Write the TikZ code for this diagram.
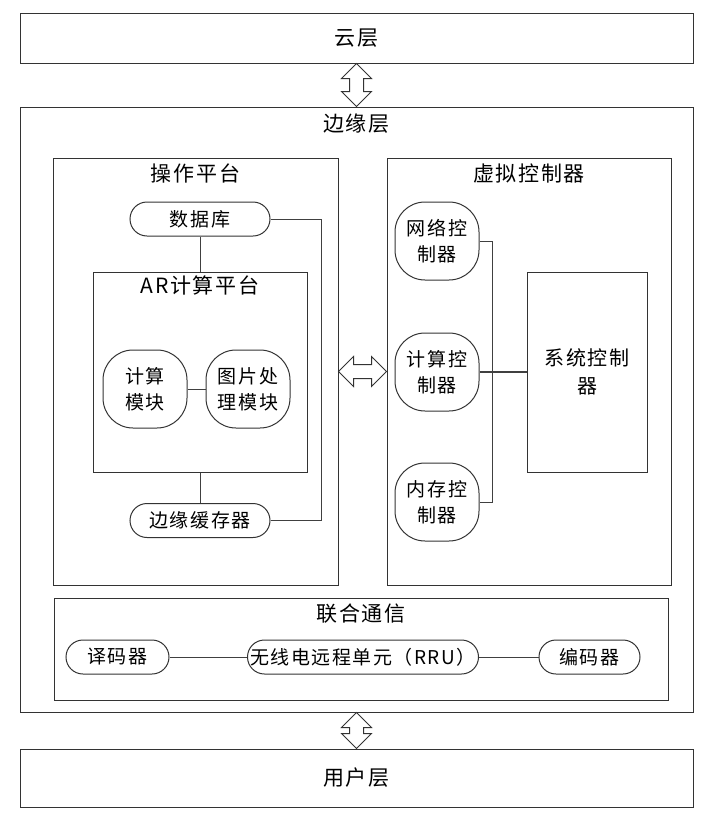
\documentclass[tikz,border=0pt]{standalone}
\usepackage{fontspec}
\setmainfont[LetterSpace=8]{Noto Sans CJK SC}
\usetikzlibrary{positioning,calc}

\begin{document}
\begin{tikzpicture}[x=1pt,y=-1pt,font=\fontsize{19}{26}\selectfont,
  panel/.style={draw=black!80,line width=1pt},
  layer/.style={panel,minimum width=673pt,font=\fontsize{21}{26}\selectfont},
  pill/.style={panel,rounded corners=17pt,minimum height=34pt,inner sep=2pt},
  blob/.style={panel,rounded corners=30pt,minimum width=84pt,minimum height=78pt,align=center,inner sep=0pt},
  title/.style={inner sep=0pt,font=\fontsize{21}{26}\selectfont},
  link/.style={draw=black!75,line width=1pt},
  fatarrow/.style={draw=black!80,line width=1pt,fill=white,line join=miter}]
\useasboundingbox (0,0) rectangle (713,817);
% layers
\node[layer,minimum height=50pt] (cloud) at (356.5,38) {云层};
\node[panel,minimum width=673pt,minimum height=605pt] (edge) at (356.5,409.5) {};
\node[title,below=7pt of edge.north] (edgetitle) {边缘层};
\node[layer,minimum height=58pt] (user) at (356.5,778) {用户层};
% operation platform
\node[panel,minimum width=285pt,minimum height=427pt] (op) at (195.5,371.5) {};
\node[title,below=6pt of op.north] (optitle) {操作平台};
\node[pill,minimum width=140pt] (db) at (200,219) {数据库};
\node[panel,minimum width=214pt,minimum height=200pt] (ar) at (200,372) {};
\node[title,below=4pt of ar.north] (artitle) {AR计算平台};
\node[blob] (calc) at (145,389) {计算\\模块};
\node[blob] (img) at (248,389) {图片处\\理模块};
\node[pill,minimum width=140pt] (cache) at (200,520.5) {边缘缓存器};
% virtual controller
\node[panel,minimum width=284pt,minimum height=427pt] (vc) at (529,371.5) {};
\node[title,below=6pt of vc.north] (vctitle) {虚拟控制器};
\node[blob] (net) at (437,241) {网络控\\制器};
\node[blob] (cpu) at (437,372) {计算控\\制器};
\node[blob] (mem) at (437,502) {内存控\\制器};
\node[panel,minimum width=120pt,minimum height=200pt,align=center,font=\fontsize{20}{28}\selectfont] (sys) at (587,372) {系统控制\\器};
% joint communication
\node[panel,minimum width=614pt,minimum height=102pt] (joint) at (361,649) {};
\node[title,below=6pt of joint.north] (jointtitle) {联合通信};
\node[pill,minimum width=103pt] (dec) at (117.5,657) {译码器};
\node[pill,minimum width=231pt] (rru) at (363,657) {无线电远程单元（RRU）};
\node[pill,minimum width=101pt] (enc) at (589.5,657) {编码器};

\draw[link] (db) -- (ar);
\draw[link] (ar) -- (cache);
\draw[link] (db.east) -- ++(51,0) |- (cache.east);
\draw[link] (calc) -- (img);
\draw[link] (net.east) -- ++(13,0) |- (mem.east);
\draw[link,line width=1.6pt] (cpu) -- (sys);
\draw[link] (dec) -- (rru);
\draw[link] (rru) -- (enc);

% double arrows
\draw[fatarrow] (cloud.south) -- ++(-15,15) -- ++(8,0) -- ($(edge.north)+(-7,-15)$) -- ++(-8,0)
  -- (edge.north) -- ++(15,-15) -- ++(-8,0) -- ($(cloud.south)+(7,15)$) -- ++(8,0) -- cycle;
\draw[fatarrow] (edge.south) -- ++(-15,15) -- ++(8,0) -- ($(user.north)+(-7,-15)$) -- ++(-8,0)
  -- (user.north) -- ++(15,-15) -- ++(-8,0) -- ($(edge.south)+(7,15)$) -- ++(8,0) -- cycle;
\draw[fatarrow] (op.east) -- ++(15,-15) -- ++(0,8) -- ($(vc.west)+(-15,-7)$) -- ++(0,-8)
  -- (vc.west) -- ++(-15,15) -- ++(0,-8) -- ($(op.east)+(15,7)$) -- ++(0,8) -- cycle;
\end{tikzpicture}
\end{document}
